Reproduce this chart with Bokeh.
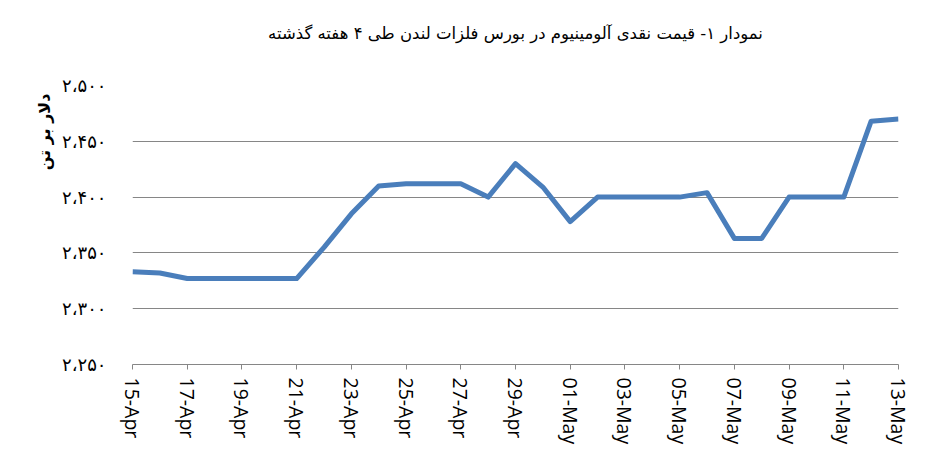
from bokeh.plotting import figure
from bokeh.models import FixedTicker, Title
from bokeh.embed import file_html
from bokeh.resources import INLINE

dates = ["15-Apr", "16-Apr", "17-Apr", "18-Apr", "19-Apr", "20-Apr", "21-Apr",
         "22-Apr", "23-Apr", "24-Apr", "25-Apr", "26-Apr", "27-Apr", "28-Apr",
         "29-Apr", "30-Apr", "01-May", "02-May", "03-May", "04-May", "05-May",
         "06-May", "07-May", "08-May", "09-May", "10-May", "11-May", "12-May",
         "13-May"]
prices = [2333, 2332, 2327, 2327, 2327, 2327, 2327,
          2355, 2385, 2410, 2412, 2412, 2412, 2400,
          2430, 2409, 2378, 2400, 2400, 2400, 2400,
          2404, 2363, 2363, 2400, 2400, 2400, 2468,
          2470]
y_ticks = [2250, 2300, 2350, 2400, 2450, 2500]
y_tick_labels = ["۲،۲۵۰", "۲،۳۰۰", "۲،۳۵۰", "۲،۴۰۰", "۲،۴۵۰", "۲،۵۰۰"]
title_text = "نمودار ۱- قیمت نقدی آلومینیوم در بورس فلزات لندن طی ۴ هفته گذشته"
y_label = "دلار بر تن"

x = list(range(len(dates)))

p = figure(width=929, height=449, output_backend="svg", toolbar_location=None,
           x_range=(0, len(dates) - 1), y_range=(2250, 2500),
           min_border_left=132, min_border_right=31, min_border_top=85,
           min_border_bottom=85)
p.outline_line_color = None
p.background_fill_color = "white"

# spacer panel between the frame and the title
spacer = Title(text=" ", text_font_size="1px", standoff=40, text_color="white")
p.add_layout(spacer, "above")
t = Title(text=title_text, align="center", text_font="DejaVu Sans",
          text_font_size="16.5px", text_font_style="normal", text_color="black",
          standoff=0)
p.add_layout(t, "above")

p.line(x, prices, line_color="#4a7ebb", line_width=5, line_join="round")

# x axis
p.xaxis.ticker = FixedTicker(ticks=x[::2])
p.xaxis.major_label_overrides = {i: dates[i] for i in x}
p.xaxis.major_label_orientation = "vertical"
p.xaxis.major_label_text_font = "Open Sans"
p.xaxis.major_label_text_font_size = "19.5px"
p.xaxis.major_label_text_color = "black"
p.xaxis.axis_line_color = "#868686"
p.xaxis.major_tick_line_color = "#868686"
p.xaxis.major_tick_out = 5
p.xaxis.major_tick_in = 0
p.xaxis.minor_tick_line_color = None
p.xaxis.major_label_standoff = 8
p.xgrid.grid_line_color = None

# y axis
p.yaxis.ticker = FixedTicker(ticks=y_ticks)
p.yaxis.major_label_overrides = {v: l for v, l in zip(y_ticks, y_tick_labels)}
p.yaxis.major_label_text_font = "DejaVu Sans"
p.yaxis.major_label_text_font_size = "18px"
p.yaxis.major_label_text_color = "black"
p.yaxis.axis_line_color = None
p.yaxis.major_tick_line_color = None
p.yaxis.minor_tick_line_color = None
p.yaxis.major_label_standoff = 20
p.ygrid.grid_line_color = "#868686"
p.ygrid.grid_line_width = 1

# y axis title placed near the top, as in the reference
ylab = Title(text=y_label, align="right", offset=8, standoff=12,
             text_font="DejaVu Sans", text_font_size="16px",
             text_font_style="bold", text_color="black")
p.add_layout(ylab, "left")

open("out.html", "w").write(file_html(p, INLINE))
